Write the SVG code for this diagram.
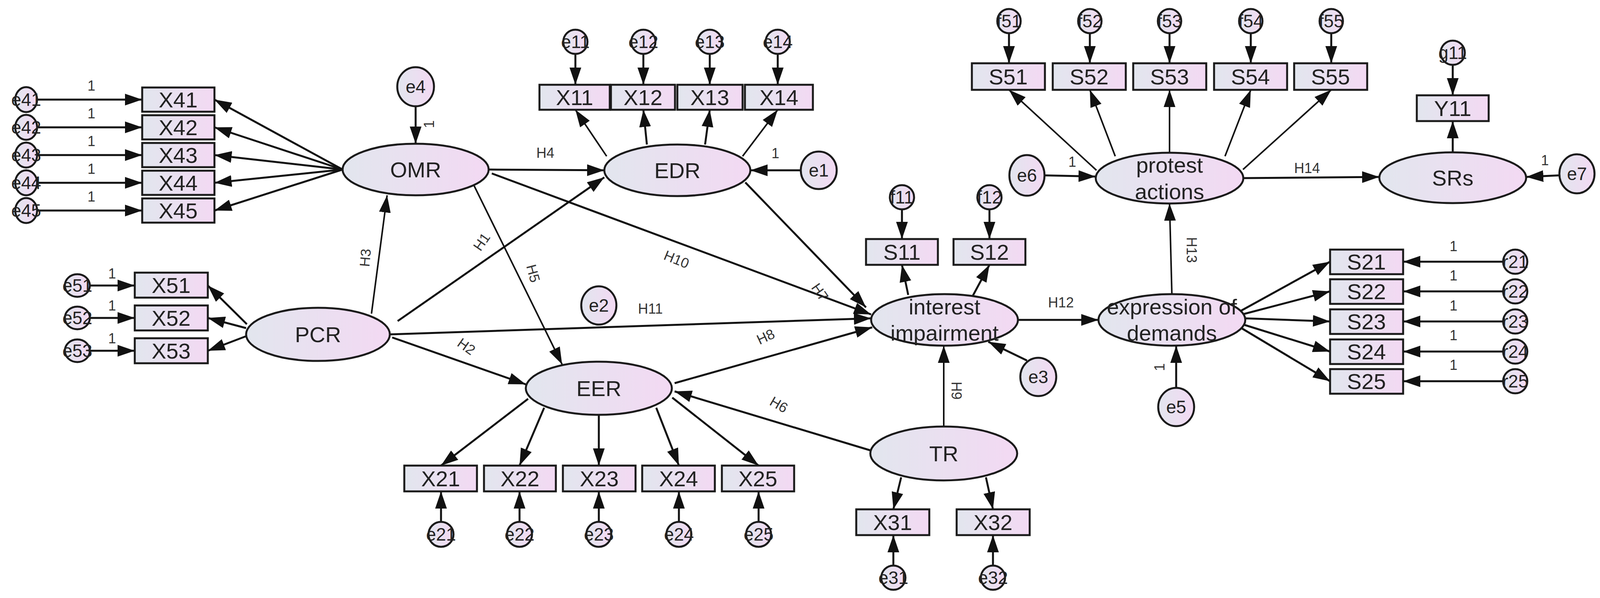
<svg xmlns="http://www.w3.org/2000/svg" width="4114" height="1531" viewBox="0 0 4114 1531">
<style>
.n{fill:url(#g);stroke:#1a1a1a;stroke-width:5}
.t{font-family:"Liberation Sans Narrow","Liberation Sans",Arial,sans-serif;font-size:56px;fill:#222;text-anchor:middle;dominant-baseline:central}
.te{font-family:"Liberation Sans Narrow","Liberation Sans",Arial,sans-serif;font-size:46px;fill:#222;text-anchor:middle;dominant-baseline:central}
.h{font-family:"Liberation Sans Narrow","Liberation Sans",Arial,sans-serif;font-size:36px;fill:#333;text-anchor:middle;dominant-baseline:central}
.c line{stroke:#111;stroke-width:5;marker-end:url(#a)}
.c line.thin{stroke-width:4}
</style>
<defs>
<linearGradient id="g" x1="0" y1="0" x2="1" y2="0"><stop offset="0" stop-color="#e2e6ee"/><stop offset="1" stop-color="#f3d9f3"/></linearGradient>
<marker id="a" markerUnits="userSpaceOnUse" markerWidth="44" markerHeight="30" refX="44" refY="15" orient="auto"><path d="M0,0 L44,15 L0,30 z" fill="#111"/></marker>
</defs>
<rect width="4114" height="1531" fill="#fff"/>
<g class="c" id="connectors">
<!-- e4x to X4x -->
<line x1="95" y1="255" x2="364" y2="255"/><line x1="95" y1="326" x2="364" y2="326"/><line x1="95" y1="397" x2="364" y2="397"/><line x1="95" y1="468" x2="364" y2="468"/><line x1="95" y1="539" x2="364" y2="539"/>
<line x1="877" y1="434" x2="549" y2="255"/><line x1="877" y1="434" x2="549" y2="326"/><line x1="877" y1="434" x2="549" y2="397"/><line x1="877" y1="434" x2="549" y2="468"/><line x1="877" y1="434" x2="549" y2="539"/>
<line x1="1064" y1="271" x2="1064" y2="368"/>
<line x1="1251" y1="434" x2="1547" y2="436"/>
<line x1="1553" y1="400" x2="1473" y2="281" class="thin"/><line x1="1656" y1="370" x2="1647" y2="281"/><line x1="1805" y1="370" x2="1817" y2="281"/><line x1="1901" y1="400" x2="1991" y2="281" class="thin"/>
<line x1="1473" y1="138" x2="1473" y2="217"/><line x1="1647" y1="138" x2="1647" y2="217"/><line x1="1817" y1="138" x2="1817" y2="217"/><line x1="1991" y1="138" x2="1991" y2="217"/>
<line x1="2049" y1="436" x2="1921" y2="436"/>
<line x1="951" y1="803" x2="991" y2="500" class="thin"/>
<line x1="1018" y1="822" x2="1547" y2="454"/>
<line x1="1212" y1="472" x2="1439" y2="933" class="thin"/>
<line x1="1259" y1="444" x2="2230" y2="805"/>
<line x1="1908" y1="467" x2="2217" y2="787"/>
<line x1="1000" y1="856" x2="2230" y2="815"/>
<line x1="1004" y1="864" x2="1346" y2="984"/>
<line x1="1727" y1="981" x2="2233" y2="838"/>
<line x1="2228" y1="1153" x2="1727" y2="1002"/>
<line x1="2416" y1="1092" x2="2416" y2="885" class="thin"/>
<line x1="2629" y1="923" x2="2530" y2="875"/>
<line x1="2606" y1="819" x2="2812" y2="819"/>
<line x1="3011" y1="995" x2="3011" y2="885"/>
<line x1="3000" y1="753" x2="2994" y2="521" class="thin"/>
<line x1="3178" y1="795" x2="3405" y2="670"/><line x1="3180" y1="805" x2="3405" y2="746"/><line x1="3188" y1="815" x2="3405" y2="823"/><line x1="3180" y1="830" x2="3405" y2="900"/><line x1="3178" y1="840" x2="3405" y2="976"/>
<line x1="3848" y1="670" x2="3592" y2="670"/><line x1="3848" y1="746" x2="3592" y2="746"/><line x1="3848" y1="823" x2="3592" y2="823"/><line x1="3848" y1="900" x2="3592" y2="900"/><line x1="3848" y1="976" x2="3592" y2="976"/>
<line x1="2676" y1="449" x2="2805" y2="452"/>
<line x1="2807" y1="436" x2="2583" y2="230" class="thin"/><line x1="2855" y1="400" x2="2790" y2="230" class="thin"/><line x1="2994" y1="390" x2="2994" y2="230" class="thin"/><line x1="3136" y1="400" x2="3202" y2="230" class="thin"/><line x1="3182" y1="434" x2="3408" y2="230" class="thin"/>
<line x1="2583" y1="85" x2="2583" y2="162"/><line x1="2790" y1="85" x2="2790" y2="162"/><line x1="2994" y1="85" x2="2994" y2="162"/><line x1="3202" y1="85" x2="3202" y2="162"/><line x1="3408" y1="85" x2="3408" y2="162"/>
<line x1="3183" y1="456" x2="3531" y2="453"/>
<line x1="3719" y1="166" x2="3719" y2="244"/>
<line x1="3719" y1="390" x2="3719" y2="310"/>
<line x1="3990" y1="449" x2="3907" y2="453"/>
<line x1="2309" y1="536" x2="2309" y2="612"/><line x1="2533" y1="536" x2="2533" y2="612"/>
<line x1="2325" y1="755" x2="2309" y2="678"/><line x1="2490" y1="758" x2="2533" y2="678"/>
<line x1="632" y1="830" x2="532" y2="731"/><line x1="630" y1="840" x2="532" y2="814"/><line x1="632" y1="860" x2="532" y2="898"/>
<line x1="230" y1="731" x2="345" y2="731"/><line x1="230" y1="814" x2="345" y2="814"/><line x1="230" y1="898" x2="345" y2="898"/>
<line x1="1352" y1="1021" x2="1129" y2="1192"/><line x1="1393" y1="1044" x2="1330" y2="1192"/><line x1="1533" y1="1062" x2="1533" y2="1192"/><line x1="1680" y1="1044" x2="1738" y2="1192"/><line x1="1721" y1="1018" x2="1942" y2="1192"/>
<line x1="1129" y1="1336" x2="1129" y2="1258"/><line x1="1330" y1="1336" x2="1330" y2="1258"/><line x1="1533" y1="1336" x2="1533" y2="1258"/><line x1="1738" y1="1336" x2="1738" y2="1258"/><line x1="1942" y1="1336" x2="1942" y2="1258"/>
<line x1="2307" y1="1222" x2="2287" y2="1304"/><line x1="2524" y1="1222" x2="2542" y2="1304"/>
<line x1="2287" y1="1448" x2="2287" y2="1370"/><line x1="2542" y1="1448" x2="2542" y2="1370"/>
</g>
<!-- latent nodes -->
<g id="OMR"><ellipse class="n" cx="1064" cy="434" rx="187" ry="66"/><text class="t" x="1064" y="434">OMR</text></g>
<g id="EDR"><ellipse class="n" cx="1734" cy="436" rx="187" ry="66"/><text class="t" x="1734" y="436">EDR</text></g>
<g id="PCR"><ellipse class="n" cx="814" cy="856" rx="184" ry="68"/><text class="t" x="814" y="856">PCR</text></g>
<g id="EER"><ellipse class="n" cx="1533" cy="994" rx="187" ry="68"/><text class="t" x="1533" y="994">EER</text></g>
<g id="TR"><ellipse class="n" cx="2416" cy="1161" rx="188" ry="69"/><text class="t" x="2416" y="1161">TR</text></g>
<g id="interest"><ellipse class="n" cx="2418" cy="819" rx="188" ry="66"/><text class="t" x="2418" y="785">interest</text><text class="t" x="2418" y="852">impairment</text></g>
<g id="expression"><ellipse class="n" cx="3000" cy="819" rx="188" ry="66"/><text class="t" x="3000" y="785">expression of</text><text class="t" x="3000" y="852">demands</text></g>
<g id="protest"><ellipse class="n" cx="2994" cy="456" rx="189" ry="65"/><text class="t" x="2994" y="422">protest</text><text class="t" x="2994" y="490">actions</text></g>
<g id="SRs"><ellipse class="n" cx="3719" cy="455" rx="188" ry="65"/><text class="t" x="3719" y="455">SRs</text></g>
<!-- observed boxes -->
<g id="X41"><rect class="n" x="364" y="224" width="185" height="62"/><text class="t" x="456" y="255">X41</text></g>
<g id="X42"><rect class="n" x="364" y="295" width="185" height="62"/><text class="t" x="456" y="326">X42</text></g>
<g id="X43"><rect class="n" x="364" y="366" width="185" height="62"/><text class="t" x="456" y="397">X43</text></g>
<g id="X44"><rect class="n" x="364" y="437" width="185" height="62"/><text class="t" x="456" y="468">X44</text></g>
<g id="X45"><rect class="n" x="364" y="508" width="185" height="62"/><text class="t" x="456" y="539">X45</text></g>
<g id="X11"><rect class="n" x="1381" y="217" width="180" height="64"/><text class="t" x="1471" y="249">X11</text></g>
<g id="X12"><rect class="n" x="1564" y="217" width="164" height="64"/><text class="t" x="1646" y="249">X12</text></g>
<g id="X13"><rect class="n" x="1734" y="217" width="167" height="64"/><text class="t" x="1817" y="249">X13</text></g>
<g id="X14"><rect class="n" x="1907" y="217" width="174" height="64"/><text class="t" x="1994" y="249">X14</text></g>
<g id="X51"><rect class="n" x="345" y="698" width="187" height="64"/><text class="t" x="438" y="730">X51</text></g>
<g id="X52"><rect class="n" x="345" y="782" width="187" height="64"/><text class="t" x="438" y="814">X52</text></g>
<g id="X53"><rect class="n" x="345" y="866" width="187" height="64"/><text class="t" x="438" y="898">X53</text></g>
<g id="X21"><rect class="n" x="1035" y="1192" width="186" height="66"/><text class="t" x="1128" y="1225">X21</text></g>
<g id="X22"><rect class="n" x="1239" y="1192" width="184" height="66"/><text class="t" x="1331" y="1225">X22</text></g>
<g id="X23"><rect class="n" x="1441" y="1192" width="186" height="66"/><text class="t" x="1534" y="1225">X23</text></g>
<g id="X24"><rect class="n" x="1644" y="1192" width="186" height="66"/><text class="t" x="1737" y="1225">X24</text></g>
<g id="X25"><rect class="n" x="1848" y="1192" width="185" height="66"/><text class="t" x="1940" y="1225">X25</text></g>
<g id="X31"><rect class="n" x="2192" y="1304" width="187" height="66"/><text class="t" x="2285" y="1337">X31</text></g>
<g id="X32"><rect class="n" x="2449" y="1304" width="187" height="66"/><text class="t" x="2542" y="1337">X32</text></g>
<g id="S11"><rect class="n" x="2217" y="612" width="184" height="66"/><text class="t" x="2309" y="645">S11</text></g>
<g id="S12"><rect class="n" x="2441" y="612" width="184" height="66"/><text class="t" x="2533" y="645">S12</text></g>
<g id="S51"><rect class="n" x="2488" y="162" width="187" height="68"/><text class="t" x="2581" y="196">S51</text></g>
<g id="S52"><rect class="n" x="2695" y="162" width="187" height="68"/><text class="t" x="2788" y="196">S52</text></g>
<g id="S53"><rect class="n" x="2901" y="162" width="187" height="68"/><text class="t" x="2994" y="196">S53</text></g>
<g id="S54"><rect class="n" x="3108" y="162" width="187" height="68"/><text class="t" x="3201" y="196">S54</text></g>
<g id="S55"><rect class="n" x="3313" y="162" width="187" height="68"/><text class="t" x="3406" y="196">S55</text></g>
<g id="Y11"><rect class="n" x="3627" y="244" width="184" height="66"/><text class="t" x="3719" y="277">Y11</text></g>
<g id="S21"><rect class="n" x="3405" y="639" width="187" height="63"/><text class="t" x="3498" y="670">S21</text></g>
<g id="S22"><rect class="n" x="3405" y="715" width="187" height="63"/><text class="t" x="3498" y="746">S22</text></g>
<g id="S23"><rect class="n" x="3405" y="792" width="187" height="63"/><text class="t" x="3498" y="823">S23</text></g>
<g id="S24"><rect class="n" x="3405" y="869" width="187" height="63"/><text class="t" x="3498" y="900">S24</text></g>
<g id="S25"><rect class="n" x="3405" y="945" width="187" height="63"/><text class="t" x="3498" y="976">S25</text></g>
<!-- error terms -->
<g id="e4"><ellipse class="n" cx="1064" cy="222" rx="47" ry="50"/><text class="te" x="1064" y="222">e4</text></g>
<g id="e1"><ellipse class="n" cx="2096" cy="436" rx="46" ry="48"/><text class="te" x="2096" y="436">e1</text></g>
<g id="e2"><ellipse class="n" cx="1533" cy="782" rx="45" ry="49"/><text class="te" x="1533" y="782">e2</text></g>
<g id="e3"><ellipse class="n" cx="2658" cy="965" rx="46" ry="49"/><text class="te" x="2658" y="965">e3</text></g>
<g id="e5"><ellipse class="n" cx="3011" cy="1042" rx="46" ry="49"/><text class="te" x="3011" y="1042">e5</text></g>
<g id="e6"><ellipse class="n" cx="2629" cy="449" rx="45" ry="52"/><text class="te" x="2629" y="449">e6</text></g>
<g id="e7"><ellipse class="n" cx="4037" cy="445" rx="45" ry="50"/><text class="te" x="4037" y="445">e7</text></g>
<g id="e41"><ellipse class="n" cx="67" cy="255" rx="28" ry="32"/><text class="te" x="67" y="255">e41</text></g>
<g id="e42"><ellipse class="n" cx="67" cy="326" rx="28" ry="32"/><text class="te" x="67" y="326">e42</text></g>
<g id="e43"><ellipse class="n" cx="67" cy="397" rx="28" ry="32"/><text class="te" x="67" y="397">e43</text></g>
<g id="e44"><ellipse class="n" cx="67" cy="468" rx="28" ry="32"/><text class="te" x="67" y="468">e44</text></g>
<g id="e45"><ellipse class="n" cx="67" cy="539" rx="28" ry="32"/><text class="te" x="67" y="539">e45</text></g>
<g id="e11"><ellipse class="n" cx="1473" cy="107" rx="31" ry="31"/><text class="te" x="1473" y="107">e11</text></g>
<g id="e12"><ellipse class="n" cx="1647" cy="107" rx="31" ry="31"/><text class="te" x="1647" y="107">e12</text></g>
<g id="e13"><ellipse class="n" cx="1817" cy="107" rx="31" ry="31"/><text class="te" x="1817" y="107">e13</text></g>
<g id="e14"><ellipse class="n" cx="1991" cy="107" rx="31" ry="31"/><text class="te" x="1991" y="107">e14</text></g>
<g id="e51"><ellipse class="n" cx="198" cy="731" rx="32" ry="29"/><text class="te" x="198" y="731">e51</text></g>
<g id="e52"><ellipse class="n" cx="198" cy="814" rx="32" ry="29"/><text class="te" x="198" y="814">e52</text></g>
<g id="e53"><ellipse class="n" cx="198" cy="898" rx="32" ry="29"/><text class="te" x="198" y="898">e53</text></g>
<g id="e21"><ellipse class="n" cx="1129" cy="1368" rx="32" ry="32"/><text class="te" x="1129" y="1368">e21</text></g>
<g id="e22"><ellipse class="n" cx="1330" cy="1368" rx="32" ry="32"/><text class="te" x="1330" y="1368">e22</text></g>
<g id="e23"><ellipse class="n" cx="1533" cy="1368" rx="32" ry="32"/><text class="te" x="1533" y="1368">e23</text></g>
<g id="e24"><ellipse class="n" cx="1738" cy="1368" rx="32" ry="32"/><text class="te" x="1738" y="1368">e24</text></g>
<g id="e25"><ellipse class="n" cx="1942" cy="1368" rx="32" ry="32"/><text class="te" x="1942" y="1368">e25</text></g>
<g id="e31"><ellipse class="n" cx="2287" cy="1479" rx="31" ry="31"/><text class="te" x="2287" y="1479">e31</text></g>
<g id="e32"><ellipse class="n" cx="2542" cy="1479" rx="31" ry="31"/><text class="te" x="2542" y="1479">e32</text></g>
<g id="f11"><ellipse class="n" cx="2309" cy="505" rx="31" ry="31"/><text class="te" x="2309" y="505">f11</text></g>
<g id="f12"><ellipse class="n" cx="2533" cy="505" rx="31" ry="31"/><text class="te" x="2533" y="505">f12</text></g>
<g id="f51"><ellipse class="n" cx="2583" cy="54" rx="30" ry="31"/><text class="te" x="2583" y="54">f51</text></g>
<g id="f52"><ellipse class="n" cx="2790" cy="54" rx="30" ry="31"/><text class="te" x="2790" y="54">f52</text></g>
<g id="f53"><ellipse class="n" cx="2994" cy="54" rx="30" ry="31"/><text class="te" x="2994" y="54">f53</text></g>
<g id="f54"><ellipse class="n" cx="3202" cy="54" rx="30" ry="31"/><text class="te" x="3202" y="54">f54</text></g>
<g id="f55"><ellipse class="n" cx="3408" cy="54" rx="30" ry="31"/><text class="te" x="3408" y="54">f55</text></g>
<g id="g11"><ellipse class="n" cx="3719" cy="135" rx="31" ry="31"/><text class="te" x="3719" y="135">g11</text></g>
<g id="r21"><ellipse class="n" cx="3879" cy="670" rx="31" ry="31"/><text class="te" x="3879" y="670">r21</text></g>
<g id="r22"><ellipse class="n" cx="3879" cy="746" rx="31" ry="31"/><text class="te" x="3879" y="746">r22</text></g>
<g id="r23"><ellipse class="n" cx="3879" cy="823" rx="31" ry="31"/><text class="te" x="3879" y="823">r23</text></g>
<g id="r24"><ellipse class="n" cx="3879" cy="900" rx="31" ry="31"/><text class="te" x="3879" y="900">r24</text></g>
<g id="r25"><ellipse class="n" cx="3879" cy="976" rx="31" ry="31"/><text class="te" x="3879" y="976">r25</text></g>
<!-- path labels -->
<g id="labels">
<text class="h" x="1396" y="391">H4</text>
<text class="h" x="1732" y="664" transform="rotate(22 1732 664)">H10</text>
<text class="h" x="2099" y="748" transform="rotate(55 2099 748)">H7</text>
<text class="h" x="935" y="660" transform="rotate(-85 935 660)">H3</text>
<text class="h" x="1233" y="619" transform="rotate(-55 1233 619)">H1</text>
<text class="h" x="1365" y="700" transform="rotate(75 1365 700)">H5</text>
<text class="h" x="1665" y="790">H11</text>
<text class="h" x="1194" y="887" transform="rotate(35 1194 887)">H2</text>
<text class="h" x="1960" y="862" transform="rotate(-25 1960 862)">H8</text>
<text class="h" x="1994" y="1036" transform="rotate(30 1994 1036)">H6</text>
<text class="h" x="2448" y="1000" transform="rotate(90 2448 1000)">H9</text>
<text class="h" x="2716" y="774">H12</text>
<text class="h" x="3050" y="640" transform="rotate(90 3050 640)">H13</text>
<text class="h" x="3346" y="430">H14</text>
<text class="h" x="234" y="219">1</text><text class="h" x="234" y="290">1</text><text class="h" x="234" y="361">1</text><text class="h" x="234" y="432">1</text><text class="h" x="234" y="503">1</text>
<text class="h" x="287" y="700">1</text><text class="h" x="287" y="782">1</text><text class="h" x="287" y="866">1</text>
<text class="h" x="3721" y="630">1</text><text class="h" x="3721" y="705">1</text><text class="h" x="3721" y="782">1</text><text class="h" x="3721" y="858">1</text><text class="h" x="3721" y="934">1</text>
<text class="h" x="2745" y="414">1</text><text class="h" x="3955" y="410">1</text><text class="h" x="1985" y="392">1</text>
<text class="h" x="1098" y="318" transform="rotate(-90 1098 318)">1</text>
<text class="h" x="2968" y="940" transform="rotate(-90 2968 940)">1</text>
</g>
</svg>
